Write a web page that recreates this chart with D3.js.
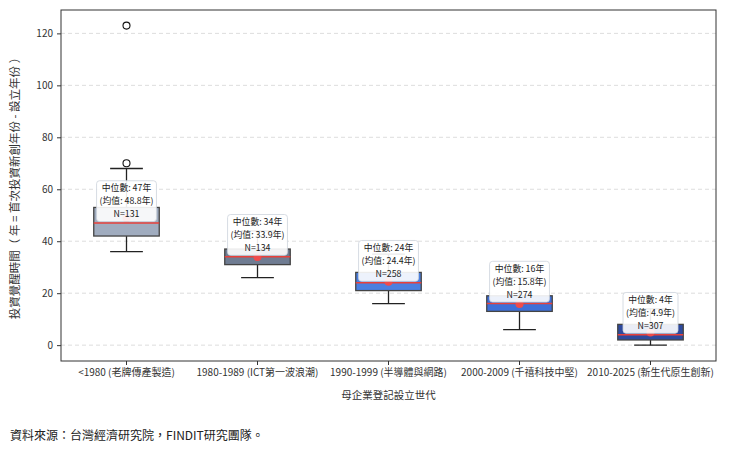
<!DOCTYPE html>
<html><head><meta charset="utf-8">
<script src="https://cdn.jsdelivr.net/npm/d3@7"></script>
<style>
body{margin:0;background:#fff;}
svg text{font-family:"Noto Sans CJK TC","Noto Sans",sans-serif;}
</style></head>
<body><svg id="c" width="732" height="450"></svg>
<script>
const categories = ["<1980 (老牌傳產製造)", "1980-1989 (ICT第一波浪潮)", "1990-1999 (半導體與網路)", "2000-2009 (千禧科技中堅)", "2010-2025 (新生代原生創新)"];
const whiskerLow = [36, 26, 16, 6, 0];
const q1 = [42, 31, 21, 13, 2];
const medians = [47, 34, 24, 16, 4];
const q3 = [53, 37, 28, 19, 8];
const whiskerHigh = [68, 44, 35, 26, 14];
const means = [48.8, 33.9, 24.4, 15.8, 4.9];
const counts = [131, 134, 258, 274, 307];
const outliers = [[70, 123], [], [], [], []];
const boxColors = ["#a0acbf", "#6f7c92", "#4a7fe0", "#3e6fd8", "#2e4a9e"];
const yTicks = [0, 20, 40, 60, 80, 100, 120];

const svg = d3.select("#c");
const L = 61, R = 716, T = 10, B = 361;
const x = d3.scaleBand().domain(categories).range([L, R]).padding(0);
const y = d3.scaleLinear().domain([-6.1, 129]).range([B, T]);

// grid
svg.append("g").selectAll("line").data(yTicks).join("line")
  .attr("x1", L).attr("x2", R).attr("y1", d => y(d)).attr("y2", d => y(d))
  .attr("stroke", "#d4d4d4").attr("stroke-width", 0.8).attr("stroke-dasharray", "4,3");

// axes
const yAxis = svg.append("g").attr("transform", `translate(${L},0)`)
  .call(d3.axisLeft(y).tickValues(yTicks).tickSize(4).tickPadding(4));
yAxis.select(".domain").remove();
yAxis.selectAll("text").attr("font-size", 10).attr("fill", "#333");
yAxis.selectAll("line").attr("stroke", "#333");
const xAxis = svg.append("g").attr("transform", `translate(0,${B})`)
  .call(d3.axisBottom(x).tickSize(4).tickPadding(4));
xAxis.select(".domain").remove();
xAxis.selectAll("text").attr("font-size", 10).attr("fill", "#333");
xAxis.selectAll("line").attr("stroke", "#333");

const bw = x.bandwidth() * 0.5;
const cw = bw / 2;
const data = categories.map((c, i) => ({c, i}));
const g = svg.append("g");
data.forEach(({c, i}) => {
  const cx = x(c) + x.bandwidth() / 2;
  // whiskers
  g.append("line").attr("x1", cx).attr("x2", cx).attr("y1", y(whiskerLow[i])).attr("y2", y(q1[i])).attr("stroke", "#222").attr("stroke-width", 1.3);
  g.append("line").attr("x1", cx).attr("x2", cx).attr("y1", y(whiskerHigh[i])).attr("y2", y(q3[i])).attr("stroke", "#222").attr("stroke-width", 1.3);
  g.append("line").attr("x1", cx - cw / 2).attr("x2", cx + cw / 2).attr("y1", y(whiskerLow[i])).attr("y2", y(whiskerLow[i])).attr("stroke", "#222").attr("stroke-width", 1.3);
  g.append("line").attr("x1", cx - cw / 2).attr("x2", cx + cw / 2).attr("y1", y(whiskerHigh[i])).attr("y2", y(whiskerHigh[i])).attr("stroke", "#222").attr("stroke-width", 1.3);
  // box
  g.append("rect").attr("x", cx - bw / 2).attr("width", bw).attr("y", y(q3[i])).attr("height", y(q1[i]) - y(q3[i]))
    .attr("fill", boxColors[i]).attr("stroke", "#444").attr("stroke-width", 1.3);
  // median
  g.append("line").attr("x1", cx - bw / 2).attr("x2", cx + bw / 2).attr("y1", y(medians[i])).attr("y2", y(medians[i])).attr("stroke", "#e8403a").attr("stroke-width", 1.5);
  // mean
  g.append("circle").attr("cx", cx).attr("cy", y(means[i])).attr("r", 4).attr("fill", "#ef4b4b");
  // outliers
  outliers[i].forEach(v => g.append("circle").attr("cx", cx).attr("cy", y(v)).attr("r", 3.5).attr("fill", "none").attr("stroke", "#111").attr("stroke-width", 1.1));
  // label
  const lab = g.append("g");
  const bottom = y(medians[i]) - 1.5;
  const lines = [`中位數: ${medians[i]}年`, `(均值: ${means[i]}年)`, `N=${counts[i]}`];
  const fs = 8.8, lh = 12.9;
  const bg = lab.append("rect");
  const texts = lines.map((s, k) => lab.append("text").attr("font-size", fs).attr("fill", "#222").attr("text-anchor", "middle")
    .attr("x", cx).attr("y", bottom - 4.5 - (lines.length - 1 - k) * lh).text(s));
  const boxes = texts.map(t => t.node().getBBox());
  const x0 = d3.min(boxes, b => b.x), x1 = d3.max(boxes, b => b.x + b.width), y0 = d3.min(boxes, b => b.y);
  bg.attr("x", x0 - 3).attr("y", y0 - 0.5).attr("width", x1 - x0 + 6).attr("height", bottom - y0 + 0.5)
    .attr("rx", 3).attr("fill", "#fff").attr("fill-opacity", 0.9).attr("stroke", "#cdd3dc").attr("stroke-width", 0.8);
});

// frame
svg.append("rect").attr("x", L).attr("y", T).attr("width", R - L).attr("height", B - T)
  .attr("fill", "none").attr("stroke", "#333").attr("stroke-width", 1);

// titles
svg.append("text").attr("x", (L + R) / 2).attr("y", 399).attr("text-anchor", "middle").attr("font-size", 10.5).attr("fill", "#333").text("母企業登記設立世代");
svg.append("text").attr("transform", `translate(19,${(T + B) / 2}) rotate(-90)`).attr("text-anchor", "middle").attr("font-size", 11.5).attr("fill", "#333")
  .text("投資覺醒時間（ 年 = 首次投資新創年份 - 設立年份 ）");
svg.append("text").attr("x", 10).attr("y", 440).attr("font-size", 12).attr("fill", "#222").text("資料來源：台灣經濟研究院，FINDIT研究團隊。");
</script></body></html>
